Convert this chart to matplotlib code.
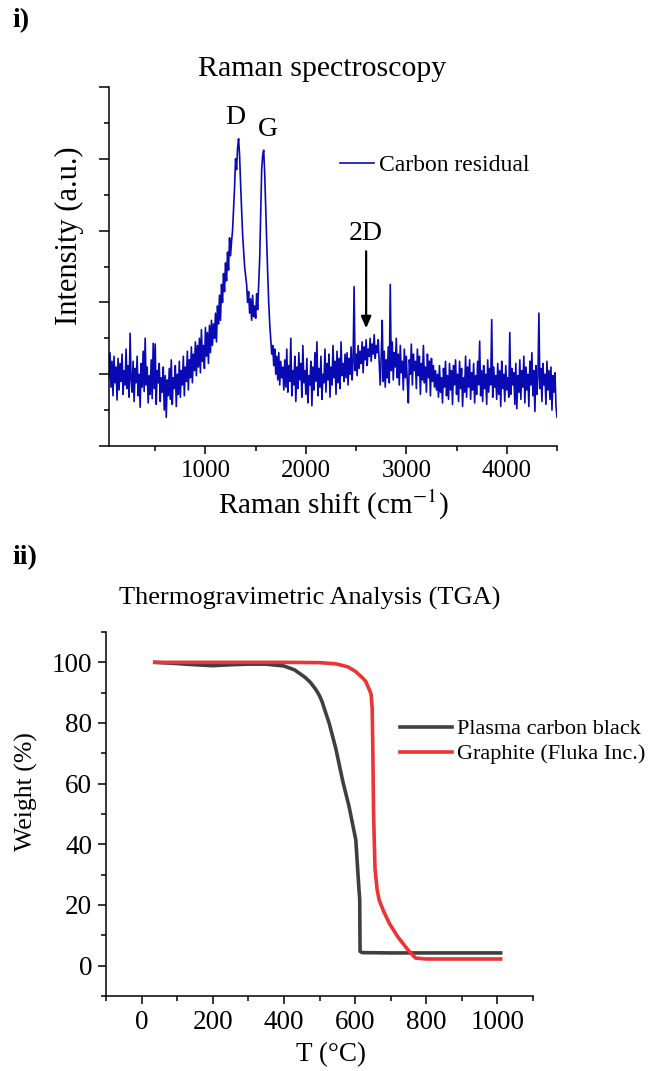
import numpy as np
import matplotlib
matplotlib.use("Agg")
import matplotlib.pyplot as plt
from matplotlib.ticker import MultipleLocator

plt.rcParams['font.family'] = ['Liberation Serif', 'DejaVu Serif']
plt.rcParams['mathtext.fontset'] = 'stix'

# ---------------- Raman data (intensity a.u. x100, step 10 cm-1) ----------------
raman_step = 10
raman_seg_starts = [40, 910, 1790, 2400, 3310]
raman_seg_a = [95, 130, 82, 118, 70, 125, 88, 110, 64, 122,
               78, 115, 90, 128, 72, 105, 85, 135, 80, 112,
               68, 157, 92, 75, 118, 62, 108, 88, 125, 70,
               100, 54, 115, 82, 132, 76, 150, 85, 110, 60,
               98, 72, 120, 66, 143, 80, 142, 58, 105, 88,
               115, 62, 95, 75, 110, 50, 98, 40, 92, 70,
               108, 65, 120, 58, 95, 80, 112, 55, 100, 72,
               118, 68, 105, 85, 125, 70, 110, 90, 132, 78,
               120, 95, 138, 88, 128, 105, 145]
raman_seg_b = [98, 140, 110, 150, 102, 162, 118, 140, 108, 165,
               125, 158, 115, 168, 130, 175, 140, 170, 150, 185,
               145, 195, 170, 210, 175, 225, 200, 240, 215, 255,
               230, 270, 245, 290, 265, 285, 300, 330, 360, 400,
               385, 415, 428, 405, 365, 330, 295, 272, 250, 238,
               225, 200, 215, 185, 205, 175, 210, 180, 195, 178,
               212, 190, 225, 260, 320, 385, 405, 412, 380, 330,
               285, 240, 200, 170, 150, 128, 140, 112, 135, 100,
               125, 92, 130, 85, 118, 95, 110, 78]
raman_seg_c = [120, 82, 135, 75, 112, 90, 150, 70, 105, 85,
               125, 62, 110, 80, 130, 92, 115, 68, 140, 88,
               105, 72, 122, 60, 98, 85, 118, 56, 110, 78,
               130, 90, 145, 70, 108, 82, 125, 65, 100, 88,
               135, 75, 115, 92, 128, 68, 110, 85, 140, 95,
               118, 72, 132, 88, 122, 80, 145, 98, 115, 90,
               128]
raman_seg_d = [95, 130, 85, 122, 100, 138, 92, 118, 222, 105,
               128, 98, 140, 108, 132, 115, 145, 102, 138, 120,
               148, 112, 135, 125, 150, 118, 142, 128, 155, 122,
               140, 130, 148, 118, 85, 125, 175, 90, 132, 82,
               120, 95, 138, 88, 225, 105, 145, 92, 130, 110,
               150, 95, 128, 85, 140, 102, 118, 78, 135, 95,
               125, 88, 60, 120, 100, 142, 85, 128, 105, 118,
               80, 135, 98, 125, 72, 115, 92, 140, 88, 110,
               75, 128, 95, 118, 70, 122, 90, 112, 82, 105,
               78]
raman_seg_e = [100, 68, 112, 75, 95, 60, 108, 82, 118, 70,
               98, 65, 115, 78, 105, 58, 112, 85, 120, 72,
               100, 62, 118, 80, 108, 55, 95, 75, 125, 68,
               110, 82, 120, 65, 102, 78, 115, 60, 98, 72,
               118, 85, 146, 70, 105, 62, 112, 80, 100, 58,
               120, 75, 108, 85, 176, 68, 110, 82, 98, 65,
               115, 72, 105, 55, 118, 80, 100, 62, 112, 78,
               95, 68, 158, 72, 108, 85, 102, 58, 115, 52,
               98, 75, 120, 65, 105, 82, 125, 60, 110, 78,
               100, 55, 118, 85, 130, 70, 105, 48, 112, 72,
               95, 185, 80, 108, 62, 115, 85, 100, 58, 118,
               78, 105, 65, 110, 50, 98, 75, 102, 55, 40]
raman_segments = [raman_seg_a, raman_seg_b, raman_seg_c, raman_seg_d, raman_seg_e]
raman_shift = np.concatenate([s0 + raman_step * np.arange(len(seg))
                              for s0, seg in zip(raman_seg_starts, raman_segments)])
raman_intensity = np.concatenate([np.array(seg, dtype=float) for seg in raman_segments]) / 100.0

raman_xticks = [1000, 2000, 3000, 4000]

# ---------------- TGA data ----------------
pcb_T = [37, 100, 150, 200, 250, 300, 350, 400, 430, 460, 475, 490, 500, 508, 517, 527, 546, 565, 583, 602, 611, 613, 614, 620, 700, 800, 900, 1009]
pcb_W = [100, 99.6, 99.2, 98.9, 99.2, 99.4, 99.4, 98.8, 97.5, 95.0, 93.3, 91.0, 89.0, 86.8, 83.5, 80.0, 71.5, 61.0, 52.5, 41.5, 25.0, 22.0, 4.7, 4.3, 4.2, 4.2, 4.2, 4.2]

gra_T = [37, 200, 400, 500, 546, 580, 601, 620, 630, 640, 645, 646, 648, 650, 652, 656, 662, 668, 680, 696, 720, 752, 770, 800, 900, 1009]
gra_W = [100, 100, 100, 99.9, 99.5, 98.5, 97.0, 95.0, 93.7, 91.0, 89.5, 88.0, 85.0, 70.0, 50.0, 32.0, 25.0, 21.5, 18.0, 14.0, 9.5, 4.7, 2.5, 2.2, 2.2, 2.2]

tga_xticks = [0, 200, 400, 600, 800, 1000]
tga_yticks = [0, 20, 40, 60, 80, 100]

W, H = 649, 1071
fig = plt.figure(figsize=(W / 100, H / 100), dpi=100)

def px_axes(l, t, r, b):
    return fig.add_axes([l / W, 1 - b / H, (r - l) / W, (b - t) / H])

def style(ax, labelsize):
    for s in ['top', 'right']:
        ax.spines[s].set_visible(False)
    for s in ['left', 'bottom']:
        ax.spines[s].set_linewidth(1.1)
    ax.tick_params(which='major', direction='out', length=6, width=1.1, labelsize=labelsize, pad=4)
    ax.tick_params(which='minor', direction='out', length=3.5, width=1.1)

# ---------------- Panel i) Raman ----------------
ax1 = px_axes(109, 87, 557, 446)
style(ax1, 18)
ax1.plot(raman_shift, raman_intensity, color='#0a0ab4', lw=1.2, label='Carbon residual')
ax1.set_xlim(40, 4500)
ax1.set_ylim(0, 5)
ax1.set_xticks(raman_xticks)
ax1.xaxis.set_minor_locator(MultipleLocator(500))
ax1.yaxis.set_major_locator(MultipleLocator(1))
ax1.yaxis.set_minor_locator(MultipleLocator(0.5))
ax1.tick_params(axis='y', which='both', labelleft=False)
ax1.tick_params(axis='y', which='major', length=7)
ax1.set_xlabel('Raman shift (cm$^{-1}$)', fontsize=21, labelpad=4)
ax1.set_ylabel('Intensity (a.u.)', fontsize=22, va='center')
ax1.yaxis.set_label_coords(-(109 - 69) / 448, (446 - 236) / 359)
ax1.set_title('Raman spectroscopy', fontsize=21.5, pad=8, x=0.475)
ax1.text(1300, 4.4, 'D', fontsize=20, ha='center', va='bottom')
ax1.text(1620, 4.24, 'G', fontsize=20, ha='center', va='bottom')
ax1.text(2600, 2.78, '2D', fontsize=20, ha='center', va='bottom')
ax1.annotate('', xy=(2600, 1.6), xytext=(2600, 2.75),
             arrowprops=dict(arrowstyle='-|>,head_width=0.3,head_length=0.7', color='black', lw=1.6))
ax1.legend(loc='center left', bbox_to_anchor=((340 - 109) / 448, (446 - 165) / 359), frameon=False,
           fontsize=17, handlelength=1.45, handletextpad=0.2, borderpad=0, borderaxespad=0)

# ---------------- Panel ii) TGA ----------------
ax2 = px_axes(106, 632, 533, 996)
style(ax2, 19.5)
ax2.plot(pcb_T, pcb_W, color='#3f3f3f', lw=2.6, label='Plasma carbon black')
ax2.plot(gra_T, gra_W, color='#ec3434', lw=2.6, label='Graphite (Fluka Inc.)')
ax2.set_xlim(-100, 1100)
ax2.set_ylim(-10, 110)
ax2.set_xticks(tga_xticks)
ax2.set_yticks(tga_yticks)
ax2.xaxis.set_minor_locator(MultipleLocator(100))
ax2.yaxis.set_minor_locator(MultipleLocator(10))
ax2.set_xlabel('T (°C)', fontsize=19.5, va='center')
ax2.xaxis.set_label_coords((331 - 106) / 427, -(1055 - 996) / 364)
ax2.set_ylabel('Weight (%)', fontsize=18.5, va='center')
ax2.yaxis.set_label_coords(-(106 - 26) / 427, (996 - 792) / 364)
ax2.set_title('Thermogravimetric Analysis (TGA)', fontsize=19, pad=20, x=0.478)
ax2.legend(loc='center left', bbox_to_anchor=((400 - 106) / 427, (996 - 741.5) / 364), frameon=False,
           fontsize=16, handlelength=2.35, handletextpad=0.22, labelspacing=0.2, borderpad=0, borderaxespad=0)

fig.text(12 / W, 1 - 21 / H, 'i)', fontsize=20, fontweight='bold', ha='left', va='center')
fig.text(12 / W, 1 - 558 / H, 'ii)', fontsize=20, fontweight='bold', ha='left', va='center')

fig.savefig('out.png', dpi=100)
